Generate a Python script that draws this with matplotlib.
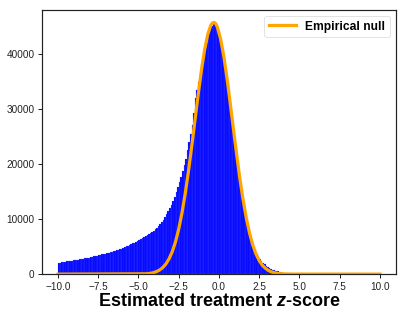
import numpy as np
import matplotlib
matplotlib.use("Agg")
import matplotlib.pyplot as plt

plt.rcParams["font.family"] = ["Liberation Sans", "DejaVu Sans"]
plt.rcParams["mathtext.fontset"] = "custom"
plt.rcParams["mathtext.it"] = "Liberation Sans:italic:bold"
plt.rcParams["mathtext.rm"] = "Liberation Sans:bold"

# histogram: 200 bins of width 0.1 on [-10, 10], counts
bin_edges = np.linspace(-10.0, 10.0, 201)
counts = [
    # -10 .. -5
    2050, 2100, 2150, 2200, 2250, 2300, 2350, 2380, 2450, 2500,
    2550, 2600, 2650, 2700, 2740, 2800, 2850, 2900, 2950, 3000,
    3080, 3150, 3220, 3300, 3370, 3450, 3520, 3600, 3670, 3750,
    3820, 3900, 3970, 4050, 4150, 4250, 4350, 4450, 4550, 4650,
    4780, 4900, 5030, 5150, 5300, 5450, 5600, 5750, 5900, 6050,
    # -5 .. 0
    6200, 6350, 6520, 6700, 6870, 7050, 7250, 7450, 7680, 7900,
    8170, 8450, 8780, 9100, 9500, 9900, 10400, 10900, 11450, 12000,
    12650, 13300, 14100, 14900, 15800, 16700, 17700, 18700, 19800, 20900,
    22600, 24000, 25500, 27100, 29300, 32000, 33500, 35000, 36600, 38200,
    39700, 41000, 42300, 43500, 44400, 45200, 45600, 45750, 45300, 44600,
    # 0 .. 5
    43400, 42100, 40500, 38700, 36700, 34500, 32300, 29900, 27600, 25200,
    22900, 20600, 18450, 16400, 14450, 12700, 11050, 9550, 8200, 7000,
    5950, 5050, 4300, 3700, 3150, 2700, 2350, 2000, 1750, 1500,
    1300, 1120, 950, 800, 680, 570, 480, 400, 330, 270,
    220, 180, 150, 120, 100, 80, 66, 55, 45, 38,
    # 5 .. 10
    32, 30, 28, 26, 25, 24, 22, 21, 20, 19,
    18, 17, 16, 16, 15, 14, 14, 13, 12, 12,
    11, 11, 10, 10, 9, 9, 8, 8, 8, 7,
    7, 7, 6, 6, 6, 6, 5, 5, 5, 5,
    4, 4, 4, 4, 4, 3, 3, 3, 3, 3,
]

# empirical null curve
null_z = [-10.0, -4.5, -4.3, -4.1, -3.9, -3.7, -3.5, -3.3, -3.1, -2.9, -2.7,
          -2.5, -2.3, -2.1, -1.9, -1.7, -1.5, -1.3, -1.1, -0.9, -0.7,
          -0.5, -0.4, -0.3, -0.2, -0.1, 0.1, 0.3, 0.5, 0.7, 0.9, 1.1, 1.3,
          1.5, 1.7, 1.9, 2.1, 2.3, 2.5, 2.7, 2.9, 3.1, 3.3,
          3.5, 3.7, 3.9, 4.1, 4.3, 10.0]
null_y = [0, 60, 130, 240, 440, 720, 1170, 1830, 2780, 4100, 5880,
          8200, 11100, 14590, 18620, 23070, 27780, 32470, 36880, 40670, 43570,
          45320, 45700, 45780, 45550, 44920, 42810, 39620, 35610, 31080, 26360,
          21700, 17350, 13480, 10170, 7450, 5300, 3660, 2460, 1600, 1020,
          620, 370, 220, 120, 65, 34, 15, 0]

fig = plt.figure(figsize=(407 / 72, 318 / 72), dpi=72)
ax = fig.add_axes([0.103, 0.138, 0.870, 0.831])

centers = 0.5 * (bin_edges[:-1] + bin_edges[1:])
ax.hist(centers, bins=bin_edges, weights=counts, color="blue",
        edgecolor="#5a6cff", linewidth=0.2)
ax.plot(null_z, null_y, color="orange", lw=3.2, label="Empirical null")

ax.set_xticks(np.arange(-10, 10.1, 2.5))
ax.set_yticks([0, 10000, 20000, 30000, 40000])
ax.tick_params(direction="out", length=4, width=1, colors="#222222",
               labelsize=10, labelcolor="#222222")
for s in ax.spines.values():
    s.set_color("#222222")
    s.set_linewidth(1.2)

ax.set_xlabel("Estimated treatment $z$-score", fontsize=18,
              fontweight="bold", labelpad=1)
leg = ax.legend(loc="upper right", prop={"weight": "bold", "size": 12},
                handlelength=2.2, fancybox=True, framealpha=0.8,
                edgecolor="#dddddd", borderaxespad=0.5)

fig.savefig("out.png", dpi=72)
